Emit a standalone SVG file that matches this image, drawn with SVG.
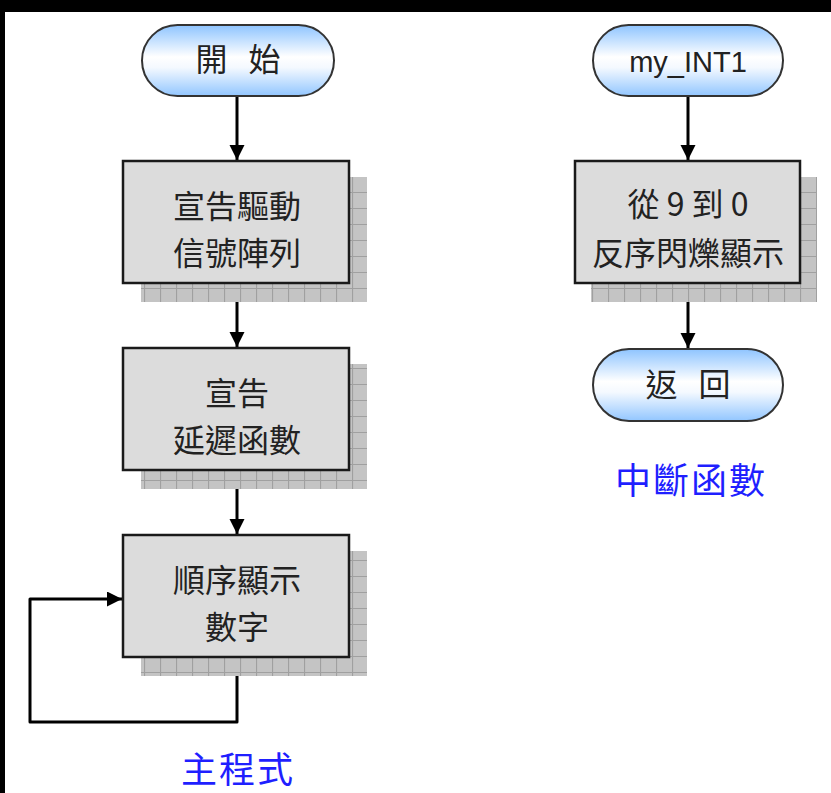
<svg xmlns="http://www.w3.org/2000/svg" width="831" height="793" viewBox="0 0 831 793">
<style>
.pill{stroke:#333;stroke-width:2;fill:url(#pg)}
.box{fill:#dcdcdc;stroke:#1a1a1a;stroke-width:2.5}
.shadow{fill:url(#grid)}
.t{font-family:"Noto Sans CJK TC","Noto Sans CJK SC",sans-serif;font-size:32px;fill:#222;text-anchor:middle}
.lat{font-family:"Liberation Sans",Arial,sans-serif;font-size:29px;fill:#222;text-anchor:middle}
.lbl{font-family:"Noto Sans CJK TC","Noto Sans CJK SC",sans-serif;font-size:36px;fill:#1f1fff;text-anchor:middle;letter-spacing:2px}
.c{fill:none;stroke:#000;stroke-width:3}
</style>
<defs>
<linearGradient id="pg" x1="0" y1="0" x2="0" y2="1">
<stop offset="0" stop-color="#8ec4ff"/>
<stop offset="0.45" stop-color="#ffffff"/>
<stop offset="0.6" stop-color="#f4f9ff"/>
<stop offset="1" stop-color="#92c6ff"/>
</linearGradient>
<pattern id="grid" patternUnits="userSpaceOnUse" width="16" height="16">
<rect width="16" height="16" fill="#c4c4c4"/>
<path d="M0 0.5H16M0.5 0V16" stroke="#a0a0a0" stroke-width="1.2"/>
</pattern>
<marker id="ah" markerUnits="userSpaceOnUse" markerWidth="16" markerHeight="16" refX="15" refY="7.5" orient="auto">
<path d="M0,0 L15,7.5 L0,15 z" fill="#000"/>
</marker>
</defs>
<rect width="831" height="793" fill="#fff"/>
<rect x="0" y="0" width="831" height="12" fill="#000"/>
<rect x="0" y="0" width="5" height="793" fill="#000"/>

<g id="connectors">
<path class="c" d="M237 97 V160" marker-end="url(#ah)"/>
<path class="c" d="M237 284 V347" marker-end="url(#ah)"/>
<path class="c" d="M237 471 V534" marker-end="url(#ah)"/>
<path class="c" d="M237 658 V722 H30 V599 H122" marker-end="url(#ah)" stroke-linejoin="round"/>
<path class="c" d="M688 97 V160" marker-end="url(#ah)"/>
<path class="c" d="M688 284 V348" marker-end="url(#ah)"/>
</g>

<g id="start">
<rect class="pill" x="142" y="25" width="192" height="71" rx="35.5"/>
<text class="t" x="238" y="71" xml:space="preserve" word-spacing="14">開 始</text>
</g>
<g id="declare-array">
<rect class="shadow" x="141" y="177" width="226" height="125"/>
<rect class="box" x="123" y="161" width="226" height="122"/>
<text class="t" x="237" y="218">宣告驅動</text>
<text class="t" x="237" y="265">信號陣列</text>
</g>
<g id="declare-delay">
<rect class="shadow" x="141" y="364" width="226" height="125"/>
<rect class="box" x="123" y="348" width="226" height="122"/>
<text class="t" x="237" y="405">宣告</text>
<text class="t" x="237" y="452">延遲函數</text>
</g>
<g id="show-digits">
<rect class="shadow" x="141" y="551" width="226" height="125"/>
<rect class="box" x="123" y="535" width="226" height="122"/>
<text class="t" x="237" y="592">順序顯示</text>
<text class="t" x="237" y="639">數字</text>
</g>
<g id="int1">
<rect class="pill" x="593" y="25" width="190" height="71" rx="35.5"/>
<text class="lat" x="688" y="72">my_INT1</text>
</g>
<g id="reverse-blink">
<rect class="shadow" x="591" y="177" width="226" height="125"/>
<rect class="box" x="575" y="161" width="225" height="122"/>
<text class="t" x="688" y="216" xml:space="preserve">從 9 到 0</text>
<text class="t" x="688" y="265">反序閃爍顯示</text>
</g>
<g id="return">
<rect class="pill" x="593" y="349" width="190" height="72" rx="36"/>
<text class="t" x="688" y="396" xml:space="preserve" word-spacing="14">返 回</text>
</g>
<g id="labels">
<text class="lbl" x="238" y="783">主程式</text>
<text class="lbl" x="691" y="494">中斷函數</text>
</g>
</svg>
